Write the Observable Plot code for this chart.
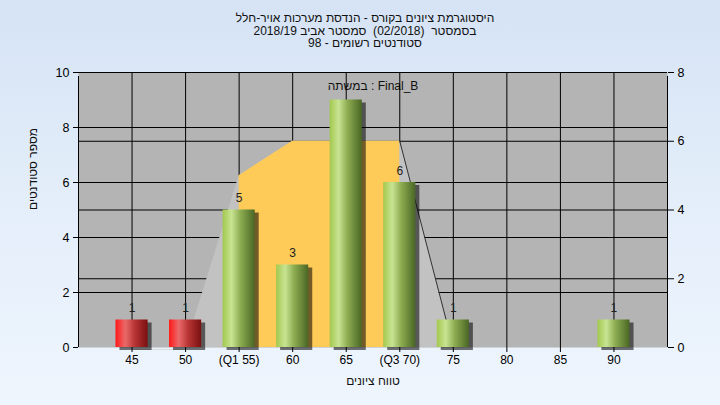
<!DOCTYPE html>
<html>
<head>
<meta charset="utf-8">
<script src="https://cdn.jsdelivr.net/npm/d3@7"></script>
<script src="https://cdn.jsdelivr.net/npm/@observablehq/plot@0.6"></script>
<style>
  html, body { margin: 0; padding: 0; overflow: hidden; }
  #wrap { position: relative; width: 720px; height: 405px;
    background: linear-gradient(to bottom, #d5e3f5 0%, #e4eefa 50%, #eef5fd 100%);
    font-family: "Liberation Sans", Arial, sans-serif; }
  #title { position: absolute; left: 0; top: 12px; width: 730px; text-align: center;
    font-size: 12px; line-height: 12.7px; color: #111; direction: rtl; white-space: pre; }
  #chart { position: absolute; left: 0; top: 0; }
</style>
</head>
<body>
<svg width="0" height="0" style="position:absolute">
  <defs>
    <linearGradient id="gGreen" x1="0" x2="1" y1="0" y2="0">
      <stop offset="0" stop-color="#a2c84e"/>
      <stop offset="0.28" stop-color="#c8e493"/>
      <stop offset="0.55" stop-color="#8eae52"/>
      <stop offset="1" stop-color="#4a6624"/>
    </linearGradient>
    <linearGradient id="gRed" x1="0" x2="1" y1="0" y2="0">
      <stop offset="0" stop-color="#ff1818"/>
      <stop offset="0.3" stop-color="#ea6a6a"/>
      <stop offset="0.6" stop-color="#b83434"/>
      <stop offset="1" stop-color="#7a1010"/>
    </linearGradient>
    <filter id="fBlur" x="-50%" y="-10%" width="200%" height="130%">
      <feGaussianBlur stdDeviation="2"/>
    </filter>
  </defs>
</svg>
<div id="wrap">
  <div id="chart"></div>
  <div id="title"></div>
</div>
<script>
// ---- data ----
const titleLines = [
  "היסטוגרמת ציונים בקורס - הנדסת מערכות אויר-חלל",
  "בסמסטר  (02/2018)  סמסטר אביב 2018/19",
  "סטודנטים רשומים - 98"
];
const seriesLabel = "במשתה : Final_B";
const yTitle = "מספר סטודנטים";
const xTitle = "טווח ציונים";

const grades = [45, 50, 55, 60, 65, 70, 75, 80, 85, 90];
const counts = [1, 1, 5, 3, 9, 6, 1, 0, 0, 1];
const xLabels = ["45", "50", "(Q1 55)", "60", "65", "(Q3 70)", "75", "80", "85", "90"];
const barLabels = ["1", "1", "5", "3", "", "6", "1", "", "", "1"];
const passGrade = 55;

const leftTicks = [0, 2, 4, 6, 8, 10];
const rightTicks = [0, 2, 4, 6, 8];
const leftMax = 10, rightMax = 8;

// box-plot shape (right axis units)
const boxX = [50, 55, 60, 65, 70, 75];
const boxRight = [0, 5, 6, 6, 6, 0];
const boxQ1 = 55, boxQ3 = 70;
const whiskerLow = [45, 50];

// ---- build ----
const titleEl = document.getElementById("title");
titleLines.forEach(s => { const d = document.createElement("div"); d.textContent = s; titleEl.appendChild(d); });

const toLeft = v => v * leftMax / rightMax;
const bars = grades.map((g, i) => ({grade: g, count: counts[i], label: barLabels[i]})).filter(d => d.count > 0);
const box = boxX.map((x, i) => ({x, y: toLeft(boxRight[i])}));
const boxInner = box.filter(d => d.x >= boxQ1 && d.x <= boxQ3);
const boxEdge = box.filter(d => d.x >= boxQ3);

const chart = Plot.plot({
  width: 720, height: 405,
  marginLeft: 78, marginRight: 53, marginTop: 72, marginBottom: 58,
  x: {domain: [40, 95], axis: null},
  y: {domain: [0, leftMax], axis: null},
  style: {background: "transparent", fontFamily: "'Liberation Sans', Arial, sans-serif", fontSize: "12px", color: "#000", overflow: "visible"},
  marks: [
    Plot.frame({fill: "#b4b4b4", stroke: null}),
    Plot.text([seriesLabel], {frameAnchor: "top", dy: 14, lineAnchor: "middle", fill: "#111", fontSize: 12}),
    // grid
    Plot.ruleX(grades, {y1: 0, y2: leftMax, stroke: "#000"}),
    Plot.ruleY(leftTicks.filter(t => t > 0), {x1: 40, x2: 95, stroke: "#000"}),
    Plot.ruleY(rightTicks.filter(t => t > 0).map(toLeft), {x1: 40, x2: 95, stroke: "#000"}),
    // box shape
    Plot.areaY(box, {x: "x", y: "y", fill: "#c2c2c2"}),
    Plot.areaY(boxInner, {x: "x", y: "y", fill: "#fecb58"}),
    Plot.line(boxEdge, {x: "x", y: "y", stroke: "#333", strokeWidth: 1}),
    Plot.ruleY([0], {x1: whiskerLow[0], x2: whiskerLow[1], dy: 2, stroke: "#dcdcdc"}),
    // bars
    Plot.rect(bars, {x1: d => d.grade - 1.5, x2: d => d.grade + 1.5, y1: 0, y2: "count", dx: 4, dy: 3, fill: "#000", fillOpacity: 0.55, ariaLabel: "bar-shadow"}),
    Plot.rect(bars.filter(d => d.grade < passGrade), {x1: d => d.grade - 1.5, x2: d => d.grade + 1.5, y1: 0, y2: "count", fill: "url(#gRed)"}),
    Plot.rect(bars.filter(d => d.grade >= passGrade), {x1: d => d.grade - 1.5, x2: d => d.grade + 1.5, y1: 0, y2: "count", fill: "url(#gGreen)"}),
    Plot.text(bars, {x: "grade", y: "count", text: "label", dy: -11.5, lineAnchor: "middle", fill: "#222", fontSize: 12}),
    // axes
    Plot.ruleX([40, 95], {y1: 0, y2: leftMax, insetBottom: -4, stroke: "#000"}),
    Plot.axisY(leftTicks, {anchor: "left", tickSize: 5, tickPadding: 4, fontSize: 12.5, label: null, stroke: "#000", fill: "#000"}),
    Plot.axisY(rightTicks.map(toLeft), {anchor: "right", tickSize: 6, tickPadding: 4, fontSize: 12.5, label: null, stroke: "#000", fill: "#000",
      tickFormat: v => String(Math.round(v * rightMax / leftMax))}),
    Plot.axisX(grades, {tickSize: 5, tickPadding: 3, fontSize: 12, label: null, stroke: "#000", fill: "#000",
      tickFormat: d => xLabels[grades.indexOf(d)]}),
    Plot.text([yTitle], {frameAnchor: "left", dx: -45, rotate: -90, fontSize: 12, fill: "#111"}),
    Plot.text([xTitle], {frameAnchor: "bottom", dy: 34, lineAnchor: "middle", fontSize: 12, fill: "#111"})
  ]
});
const sh = chart.querySelector('g[aria-label="bar-shadow"]');
if (sh) sh.setAttribute("filter", "url(#fBlur)");
document.getElementById("chart").appendChild(chart);
</script>
</body>
</html>
